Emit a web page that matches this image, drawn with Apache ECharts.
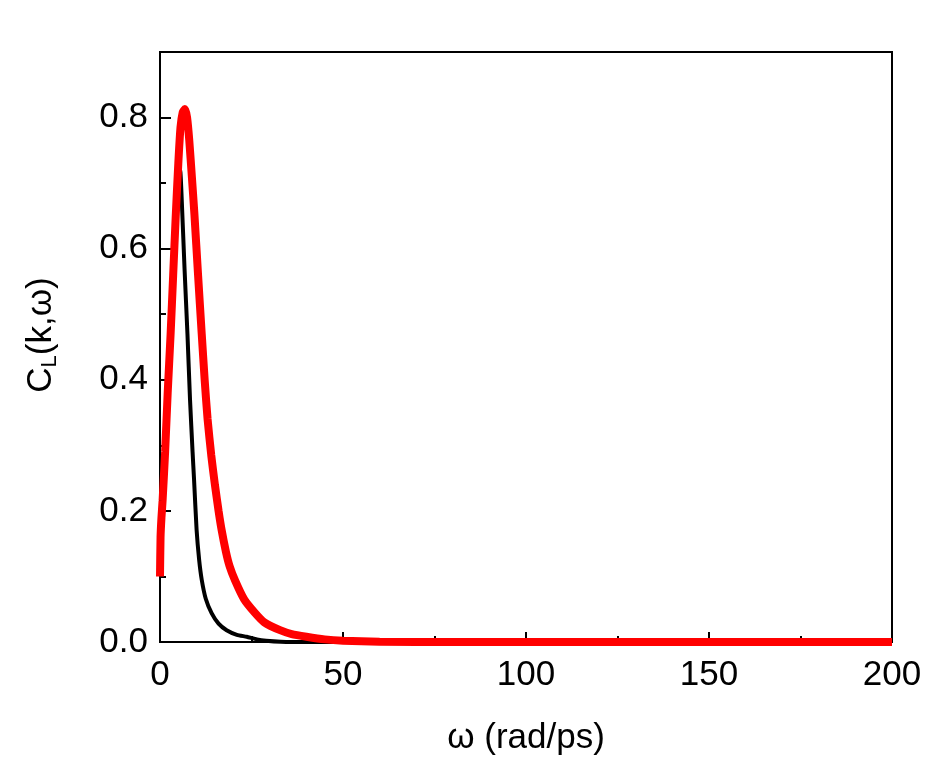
<!DOCTYPE html>
<html>
<head>
<meta charset="utf-8">
<script src="https://cdn.jsdelivr.net/npm/echarts@6/dist/echarts.min.js"></script>
<style>html,body{margin:0;padding:0;background:#fff;}#c{width:948px;height:764px;}</style>
</head>
<body>
<div id="c"></div>
<script>
const blackSeries = [[0,0.12],[0.3,0.17],[0.7,0.21],[1.5,0.30],[2.5,0.42],[3.5,0.55],[4.3,0.64],[5.0,0.70],[5.5,0.72],[5.9,0.68],[6.7,0.57],[7.5,0.47],[8.2,0.37],[8.9,0.29],[9.3,0.248],[10.0,0.171],[10.7,0.125],[11.4,0.095],[12.5,0.066],[14.1,0.044],[16,0.028],[18.2,0.018],[21,0.011],[23.7,0.008],[26.5,0.004],[29,0.002],[33,0.0005],[40,0],[60,0],[100,0],[150,0],[200,0]];
const redSeries = [[0,0.10],[0.15,0.16],[0.4,0.19],[0.7,0.215],[1.4,0.29],[2.1,0.38],[2.9,0.47],[3.6,0.56],[4.3,0.65],[5.0,0.73],[5.6,0.785],[6.2,0.808],[6.8,0.813],[7.4,0.80],[8.0,0.765],[8.7,0.71],[9.4,0.653],[10.4,0.56],[11.4,0.47],[12.2,0.40],[13.0,0.34],[14.0,0.285],[15.0,0.24],[16.0,0.20],[16.8,0.172],[18.0,0.138],[19.0,0.116],[20.5,0.094],[23,0.065],[26,0.044],[28.5,0.03],[32.8,0.018],[36,0.012],[40,0.008],[45,0.004],[50,0.002],[60,0.0005],[80,0],[100,0],[150,0],[200,0]];
const xTicks = [0, 50, 100, 150, 200];
const yTicks = [0.0, 0.2, 0.4, 0.6, 0.8];

const chart = echarts.init(document.getElementById('c'));
const font = 'Liberation Sans, Arial, sans-serif';
chart.setOption({
  animation: false,
  backgroundColor: '#fff',
  grid: {left: 160, right: 56, top: 52, bottom: 122, show: true, borderColor: '#000', borderWidth: 2, backgroundColor: 'transparent'},
  xAxis: {
    type: 'value', min: xTicks[0], max: xTicks[xTicks.length-1], interval: 50,
    name: 'ω (rad/ps)', nameLocation: 'middle', nameGap: 79,
    nameTextStyle: {fontFamily: font, fontSize: 35, color: '#000'},
    axisLine: {lineStyle: {color: '#000', width: 2}},
    axisTick: {inside: true, length: 10, lineStyle: {color: '#000', width: 2}},
    minorTick: {show: true, splitNumber: 2, length: 6, lineStyle: {color: '#000', width: 2}},
    axisLabel: {fontFamily: font, fontSize: 35, color: '#000', margin: 16},
    splitLine: {show: false}
  },
  yAxis: {
    type: 'value', min: 0, max: 0.9, interval: 0.2,
    name: '{a|C}{b|L}{a|(k,ω)}', nameLocation: 'middle', nameGap: 99,
    nameTextStyle: {padding: [0, 0, 0, 24], rich: {
      a: {fontFamily: font, fontSize: 35, color: '#000', lineHeight: 40},
      b: {fontFamily: font, fontSize: 22, color: '#000', lineHeight: 40, padding: [18, 0, 0, 0]}
    }},
    axisLine: {lineStyle: {color: '#000', width: 2}},
    axisTick: {inside: true, length: 11, lineStyle: {color: '#000', width: 2}},
    minorTick: {show: true, splitNumber: 2, length: 6, lineStyle: {color: '#000', width: 2}},
    axisLabel: {fontFamily: font, fontSize: 35, color: '#000', margin: 12,
      formatter: v => (yTicks.some(t => Math.abs(t - v) < 1e-9) ? v.toFixed(1) : '')},
    splitLine: {show: false}
  },
  series: [
    {type: 'line', data: blackSeries, showSymbol: false, smooth: 0.2, lineStyle: {color: '#000', width: 4}, z: 2},
    {type: 'line', data: redSeries, showSymbol: false, smooth: 0.2, lineStyle: {color: '#ff0000', width: 8}, z: 3}
  ]
});
</script>
</body>
</html>
